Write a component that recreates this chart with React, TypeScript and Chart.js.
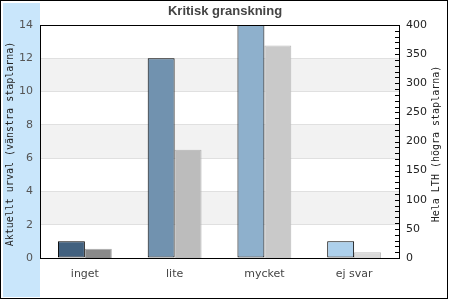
import React, { useEffect, useRef } from 'react';
import { Chart, registerables } from 'chart.js';

Chart.register(...registerables);

const categories = ['inget', 'lite', 'mycket', 'ej svar'];
const selectionValues = [1, 12, 14, 1];
const lthValues = [16, 186, 365, 10];
const selectionColors = ['#42617f', '#7192af', '#8eb0cc', '#add0ec'];
const lthColors = ['#8a8a8a', '#bcbcbc', '#c9c9c9', '#d9d9d9'];
const lthBorderColors = ['#a6a6a6', '#b2b2b2', '#bababa', '#bdbdbd'];
const chartTitle = 'Kritisk granskning';
const leftAxisTitle = 'Aktuellt urval (vänstra staplarna)';
const rightAxisTitle = 'Hela LTH (högra staplarna)';

const decorPlugin = {
  id: 'decor',
  beforeDraw(chart: any) {
    const { ctx, chartArea: a, width, height } = chart;
    ctx.save();
    ctx.fillStyle = '#ffffff';
    ctx.fillRect(0, 0, width, height);
    ctx.fillStyle = '#c9e6fb';
    ctx.fillRect(3, 3, a.left - 3, height - 6);
    const y = chart.scales.y;
    const ticks = y.ticks;
    ctx.fillStyle = '#f2f2f2';
    for (let i = 1; i < ticks.length - 1; i += 2) {
      const b = y.getPixelForValue(ticks[i].value);
      const t = y.getPixelForValue(ticks[i + 1].value);
      ctx.fillRect(a.left, t, a.right - a.left, b - t);
    }
    ctx.strokeStyle = '#000';
    ctx.lineWidth = 1;
    ctx.strokeRect(0.5, 0.5, width - 3, height - 2);
    ctx.restore();
  },
  afterDraw(chart: any) {
    const { ctx, chartArea: a } = chart;
    ctx.save();
    ctx.strokeStyle = '#000';
    ctx.lineWidth = 1;
    ctx.strokeRect(a.left + 0.5, a.top + 0.5, a.right - a.left, a.bottom - a.top);
    const y2 = chart.scales.y2;
    ctx.beginPath();
    for (let v = y2.min; v <= y2.max; v += 10) {
      const py = Math.round(y2.getPixelForValue(v)) + 0.5;
      ctx.moveTo(a.right - 4, py);
      ctx.lineTo(a.right, py);
    }
    ctx.stroke();

    const cy = (a.top + a.bottom) / 2 + 2.5;
    ctx.font = '10px "DejaVu Sans Mono"';
    ctx.fillStyle = '#222';
    ctx.textAlign = 'center';
    ctx.textBaseline = 'middle';
    ctx.save();
    ctx.translate(10, cy);
    ctx.rotate(-Math.PI / 2);
    ctx.fillText(leftAxisTitle, 0, 0);
    ctx.restore();
    ctx.save();
    ctx.translate(436, cy);
    ctx.rotate(-Math.PI / 2);
    ctx.fillText(rightAxisTitle, 0, 0);
    ctx.restore();
    ctx.restore();
  },
};

export default function App() {
  const ref = useRef<HTMLCanvasElement | null>(null);
  useEffect(() => {
    if (!ref.current) return;
    const chart = new Chart(ref.current, {
      type: 'bar',
      data: {
        labels: categories,
        datasets: [
          {
            data: selectionValues,
            yAxisID: 'y',
            backgroundColor: selectionColors,
            borderColor: '#000',
            borderWidth: 1,
            borderSkipped: false,
            categoryPercentage: 0.6,
            barPercentage: 1.0,
          },
          {
            data: lthValues,
            yAxisID: 'y2',
            backgroundColor: lthColors,
            borderColor: lthBorderColors,
            borderWidth: 1,
            borderSkipped: 'start',
            categoryPercentage: 0.6,
            barPercentage: 1.0,
          },
        ],
      },
      options: {
        responsive: false,
        animation: false,
        layout: { padding: 0 },
        plugins: {
          legend: { display: false },
          tooltip: { enabled: false },
          title: {
            display: true,
            text: chartTitle,
            color: '#444',
            font: { family: '"Liberation Sans", Arial, sans-serif', size: 13, weight: 'bold', lineHeight: 1.2 },
            padding: { top: 4, bottom: 5.4 },
          },
        },
        scales: {
          x: {
            grid: { display: false },
            border: { display: false },
            ticks: { color: '#444', font: { family: '"DejaVu Sans"', size: 11 }, padding: 2 },
            afterFit: (s: any) => { s.height = 42; },
          },
          y: {
            position: 'left',
            min: 0,
            max: 14,
            ticks: { stepSize: 2, color: '#555', font: { family: '"DejaVu Sans"', size: 11 }, padding: 7 },
            grid: { color: '#e0e0e0', drawTicks: false },
            border: { display: false },
            afterFit: (s: any) => { s.width = 40; },
          },
          y2: {
            position: 'right',
            min: 0,
            max: 400,
            ticks: { stepSize: 50, color: '#222', font: { family: '"DejaVu Sans"', size: 11 }, padding: 7 },
            grid: { display: false, drawTicks: false },
            border: { display: false },
            afterFit: (s: any) => { s.width = 51; },
          },
        },
      } as any,
      plugins: [decorPlugin],
    });
    return () => chart.destroy();
  }, []);
  return (
    <div style={{ position: 'fixed', left: 0, top: 0, width: 450, height: 300 }}>
      <canvas ref={ref} width={450} height={300} style={{ display: 'block' }} />
    </div>
  );
}
